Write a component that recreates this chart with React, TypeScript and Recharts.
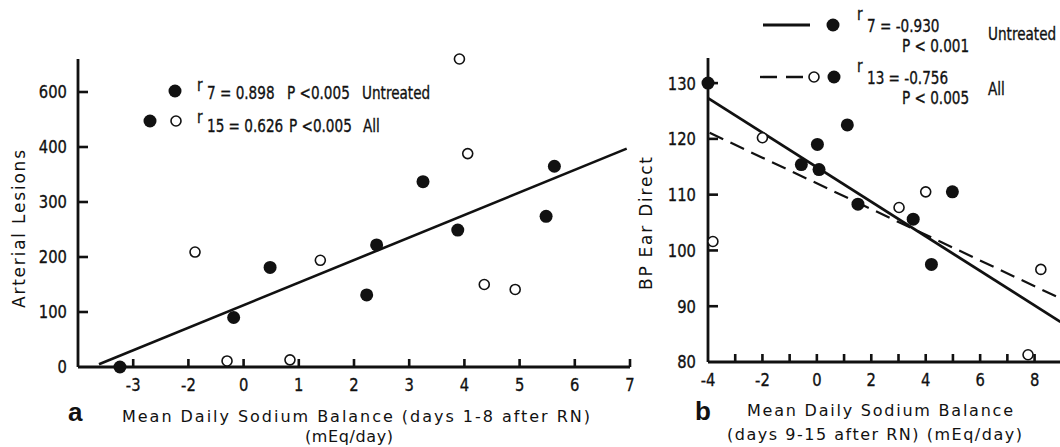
import { ScatterChart, Scatter, XAxis, YAxis } from 'recharts';

const FONT = "'DejaVu Sans', sans-serif";
const INK = '#111';

// panel a — the printed axes skip a step (no -1 on x, 600 sits where 500 would be),
// so tick positions and printed labels are kept apart
const xTicksA = [-2, -1, 0, 1, 2, 3, 4, 5, 6, 7];
const xLabelsA = ['-3', '-2', '0', '1', '2', '3', '4', '5', '6', '7'];
const yTicksA = [0, 100, 200, 300, 400, 500];
const yLabelsA = ['0', '100', '200', '300', '400', '600'];

const untreatedA = [
  { x: -2.24, y: 0 },
  { x: -0.18, y: 90 },
  { x: 0.48, y: 181 },
  { x: 2.23, y: 131 },
  { x: 2.41, y: 222 },
  { x: 3.25, y: 337 },
  { x: 3.88, y: 249 },
  { x: 5.48, y: 274 },
  { x: 5.63, y: 365 },
];
const treatedA = [
  { x: -0.88, y: 209 },
  { x: -0.3, y: 11 },
  { x: 0.84, y: 13 },
  { x: 1.39, y: 194 },
  { x: 3.91, y: 560 },
  { x: 4.06, y: 388 },
  { x: 4.36, y: 150 },
  { x: 4.92, y: 141 },
];
const fitA = [
  { x: -2.62, y: 5 },
  { x: 6.94, y: 397 },
];

// panel b
const xTicksB = [-4, -3, -2, -1, 0, 1, 2, 3, 4, 5, 6, 7, 8, 9];
const xLabelsB = ['-4', '', '-2', '', '0', '', '2', '', '4', '', '6', '', '8', ''];
const yTicksB = [80, 90, 100, 110, 120, 130];

const untreatedB = [
  { x: -4, y: 130 },
  { x: -0.57, y: 115.4 },
  { x: 0.02, y: 119 },
  { x: 0.08, y: 114.5 },
  { x: 1.12, y: 122.5 },
  { x: 1.51, y: 108.3 },
  { x: 3.54, y: 105.6 },
  { x: 4.21, y: 97.5 },
  { x: 4.98, y: 110.5 },
];
const treatedB = [
  { x: -3.82, y: 101.6 },
  { x: -2.0, y: 120.2 },
  { x: 3.02, y: 107.7 },
  { x: 4.0, y: 110.5 },
  { x: 7.76, y: 81.3 },
  { x: 8.23, y: 96.6 },
];
const fitUntreatedB = [
  { x: -4, y: 127.3 },
  { x: 8.95, y: 87.2 },
];
const fitAllB = [
  { x: -3.94, y: 121.1 },
  { x: 8.95, y: 91.4 },
];

// inward tick marks, placed on the axes through the chart scales
const xMarksA = xTicksA.map((x) => ({ x, y: 0 }));
const yMarksA = yTicksA.slice(1).map((y) => ({ x: -3, y }));
const xMarksB = xTicksB.slice(1).map((x) => ({ x, y: 80 }));
const yMarksB = yTicksB.slice(1).map((y) => ({ x: -4, y }));

const GAP = 10;
const SX = 0.82; // the print face is a narrow one; squeeze DejaVu to match

function xTick(ticks: number[], labels: string[]) {
  return (p: any) => {
    const i = ticks.indexOf(p.payload.value);
    return (
      <text
        transform={`translate(${p.x},${p.y}) scale(${SX},1)`}
        dy="0.75em"
        textAnchor="middle"
        fill={INK}
        stroke={INK}
        strokeWidth={0.35}
        fontSize={18}
      >
        {labels[i]}
      </text>
    );
  };
}

function yTick(ticks: number[], labels: string[]) {
  return (p: any) => {
    const i = ticks.indexOf(p.payload.value);
    return (
      <text
        transform={`translate(${p.x},${p.y}) scale(${SX},1)`}
        dy="0.36em"
        textAnchor="end"
        fill={INK}
        stroke={INK}
        strokeWidth={0.35}
        fontSize={18}
      >
        {labels[i]}
      </text>
    );
  };
}

const FilledDot = (p: any) => <circle cx={p.cx} cy={p.cy} r={6.5} fill={INK} />;
const OpenDot = (p: any) => <circle cx={p.cx} cy={p.cy} r={5} fill="#fff" stroke={INK} strokeWidth={1.6} />;
const NoDot = () => <g />;
const UpMark = (p: any) => <rect x={p.cx - 1.3} y={p.cy - 8} width={2.6} height={8} fill={INK} />;
const RightMark = (p: any) => <rect x={p.cx} y={p.cy - 1.3} width={10} height={2.6} fill={INK} />;

const axisLine = { stroke: INK, strokeWidth: 2.8 };

function Label({ x, y, children, size = 17 }: { x: number; y: number; children: string; size?: number }) {
  return (
    <text transform={`translate(${x},${y}) scale(0.8,1)`} fontSize={size} stroke={INK} strokeWidth={0.35}>
      {children}
    </text>
  );
}

export default function App() {
  return (
    <div
      style={{
        position: 'absolute',
        left: 0,
        top: 0,
        width: 1060,
        height: 447,
        overflow: 'hidden',
        background: '#fff',
        fontFamily: FONT,
      }}
    >
      <div style={{ position: 'absolute', left: 0, top: 0 }}>
        <ScatterChart width={680} height={447} margin={{ top: 59, right: 50, bottom: 0, left: 0 }}>
          <XAxis
            type="number"
            dataKey="x"
            domain={[-3, 7]}
            ticks={xTicksA}
            interval={0}
            height={80}
            tickSize={0}
            tickMargin={GAP}
            tickLine={false}
            axisLine={axisLine}
            tick={xTick(xTicksA, xLabelsA)}
          />
          <YAxis
            type="number"
            dataKey="y"
            domain={[0, 560]}
            ticks={yTicksA}
            interval={0}
            width={78}
            tickSize={0}
            tickMargin={11}
            tickLine={false}
            axisLine={axisLine}
            tick={yTick(yTicksA, yLabelsA)}
          />
          <Scatter data={xMarksA} shape={UpMark} isAnimationActive={false} />
          <Scatter data={yMarksA} shape={RightMark} isAnimationActive={false} />
          <Scatter data={fitA} line={{ stroke: INK, strokeWidth: 2.6 }} shape={NoDot} isAnimationActive={false} />
          <Scatter data={treatedA} shape={OpenDot} isAnimationActive={false} />
          <Scatter data={untreatedA} shape={FilledDot} isAnimationActive={false} />
        </ScatterChart>
      </div>

      <div style={{ position: 'absolute', left: 600, top: 0 }}>
        <ScatterChart width={489} height={447} margin={{ top: 58, right: 0, bottom: 0, left: 0 }}>
          <XAxis
            type="number"
            dataKey="x"
            domain={[-4, 10]}
            ticks={xTicksB}
            interval={0}
            height={85}
            tickSize={0}
            tickMargin={GAP}
            tickLine={false}
            axisLine={axisLine}
            tick={xTick(xTicksB, xLabelsB)}
          />
          <YAxis
            type="number"
            dataKey="y"
            domain={[80, 134.5]}
            ticks={yTicksB}
            interval={0}
            width={108}
            tickSize={0}
            tickMargin={12}
            tickLine={false}
            axisLine={axisLine}
            tick={yTick(yTicksB, yTicksB.map(String))}
          />
          <Scatter data={xMarksB} shape={UpMark} isAnimationActive={false} />
          <Scatter data={yMarksB} shape={RightMark} isAnimationActive={false} />
          <Scatter
            data={fitAllB}
            line={{ stroke: INK, strokeWidth: 2.2, strokeDasharray: '15 8' }}
            shape={NoDot}
            isAnimationActive={false}
          />
          <Scatter data={fitUntreatedB} line={{ stroke: INK, strokeWidth: 2.8 }} shape={NoDot} isAnimationActive={false} />
          <Scatter data={treatedB} shape={OpenDot} isAnimationActive={false} />
          <Scatter data={untreatedB} shape={FilledDot} isAnimationActive={false} />
        </ScatterChart>
      </div>

      <svg
        width={1060}
        height={447}
        style={{ position: 'absolute', left: 0, top: 0, pointerEvents: 'none', whiteSpace: 'pre' }}
        fill={INK}
      >
        {/* panel a legend */}
        <circle cx={175} cy={91} r={6.5} fill={INK} />
        <Label x={197} y={91}>r</Label>
        <Label x={207} y={99}>7 = 0.898</Label>
        <Label x={287} y={99}>P &lt;0.005</Label>
        <Label x={362} y={99}>Untreated</Label>
        <circle cx={150} cy={121} r={6.5} fill={INK} />
        <circle cx={176} cy={121} r={5} fill="#fff" stroke={INK} strokeWidth={1.6} />
        <Label x={197} y={123}>r</Label>
        <Label x={207} y={131.5}>15 = 0.626</Label>
        <Label x={289} y={131.5}>P &lt;0.005</Label>
        <Label x={363} y={131.5}>All</Label>

        {/* panel b legend */}
        <line x1={763} x2={810} y1={25} y2={25} stroke={INK} strokeWidth={2.8} />
        <circle cx={833} cy={25} r={6.5} fill={INK} />
        <Label x={857} y={20}>r</Label>
        <Label x={867} y={32}>7 = -0.930</Label>
        <Label x={902} y={52}>P &lt; 0.001</Label>
        <Label x={988} y={40}>Untreated</Label>
        <line x1={760} x2={807} y1={77} y2={77} stroke={INK} strokeWidth={2.4} strokeDasharray="17 9" />
        <circle cx={814} cy={77} r={5} fill="#fff" stroke={INK} strokeWidth={1.6} />
        <circle cx={834} cy={77} r={6.5} fill={INK} />
        <Label x={857} y={72}>r</Label>
        <Label x={867} y={84}>13 = -0.756</Label>
        <Label x={902} y={104}>P &lt; 0.005</Label>
        <Label x={988} y={95}>All</Label>

        {/* axis titles */}
        <text transform="translate(25,308) rotate(-90)" fontSize={17} textLength={158}>
          Arterial Lesions
        </text>
        <text transform="translate(652,290) rotate(-90)" fontSize={17} textLength={133}>
          BP Ear Direct
        </text>
        <text x={68} y={421} fontSize={26} fontWeight="bold" fontFamily="'Liberation Sans', Arial, sans-serif">
          a
        </text>
        <text x={695} y={420} fontSize={26} fontWeight="bold" fontFamily="'Liberation Sans', Arial, sans-serif">
          b
        </text>
        <text x={122} y={422} fontSize={16} textLength={468}>
          Mean Daily Sodium Balance (days 1-8 after RN)
        </text>
        <text x={305} y={442} fontSize={16} textLength={88}>
          (mEq/day)
        </text>
        <text x={747} y={416} fontSize={16} textLength={266}>
          Mean Daily Sodium Balance
        </text>
        <text x={727} y={440} fontSize={16} textLength={295}>
          (days 9-15 after RN)  (mEq/day)
        </text>
      </svg>
    </div>
  );
}
